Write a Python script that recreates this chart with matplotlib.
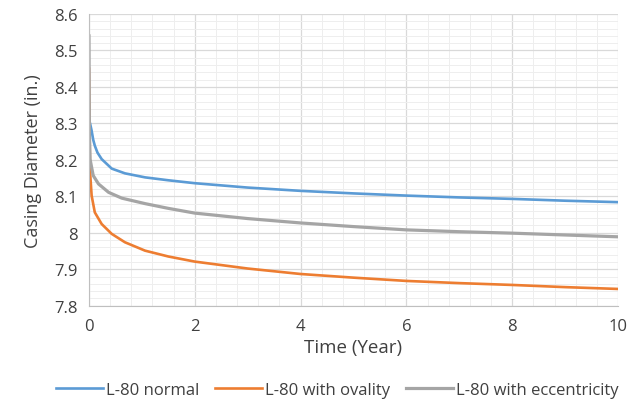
import matplotlib.pyplot as plt
from matplotlib.ticker import MultipleLocator, FormatStrFormatter

plt.rcParams["font.family"] = ["Open Sans", "DejaVu Sans"]

# time (years) and casing diameter (in.)
t_normal = [0.0, 0.02, 0.05, 0.08, 0.11, 0.16, 0.24, 0.43, 0.68, 1.06, 1.5, 2, 3, 4, 5, 6, 7, 8, 9, 10]
d_normal = [8.31, 8.30, 8.28, 8.255, 8.239, 8.22, 8.202, 8.176, 8.163, 8.152, 8.144, 8.136,
            8.124, 8.115, 8.108, 8.102, 8.097, 8.093, 8.088, 8.084]

t_oval = [0.0, 0.01, 0.02, 0.05, 0.11, 0.24, 0.43, 0.68, 1.06, 1.5, 2, 3, 4, 5, 6, 7, 8, 9, 10]
d_oval = [8.45, 8.30, 8.167, 8.102, 8.056, 8.024, 7.997, 7.974, 7.951, 7.935, 7.921,
          7.902, 7.887, 7.877, 7.868, 7.862, 7.857, 7.851, 7.846]

t_ecc = [0.0, 0.005, 0.01, 0.02, 0.08, 0.18, 0.37, 0.62, 1.06, 1.5, 2, 3, 4, 5, 6, 7, 8, 9, 10]
d_ecc = [8.54, 8.35, 8.26, 8.202, 8.157, 8.134, 8.111, 8.095, 8.080, 8.067, 8.054,
         8.039, 8.027, 8.017, 8.008, 8.003, 7.999, 7.994, 7.989]

TEXT = "#404040"

fig = plt.figure(figsize=(6.42, 4.02), dpi=100)
ax = fig.add_axes([0.1386, 0.237, 0.824, 0.7257])

ax.plot(t_normal, d_normal, color="#5B9BD5", lw=1.9, label="L-80 normal")
ax.plot(t_oval, d_oval, color="#ED7D31", lw=1.9, label="L-80 with ovality")
ax.plot(t_ecc, d_ecc, color="#A5A5A5", lw=2.3, label="L-80 with eccentricity")

ax.set_xlim(0, 10)
ax.set_ylim(7.8, 8.6)
ax.xaxis.set_major_locator(MultipleLocator(2))
ax.xaxis.set_minor_locator(MultipleLocator(0.4))
ax.yaxis.set_major_locator(MultipleLocator(0.1))
ax.yaxis.set_minor_locator(MultipleLocator(0.02))
ax.yaxis.set_major_formatter(FormatStrFormatter("%g"))

ax.grid(which="major", color="#D9D9D9", lw=0.9)
ax.grid(which="minor", color="#EEEEEE", lw=0.7)
ax.set_axisbelow(True)
for side in ["top", "right"]:
    ax.spines[side].set_visible(False)
for side in ["left", "bottom"]:
    ax.spines[side].set_color("#BFBFBF")
ax.tick_params(which="both", length=0, labelsize=12, colors=TEXT)
ax.tick_params(axis="y", pad=8)
ax.tick_params(axis="x", pad=9)

ax.set_xlabel("Time (Year)", fontsize=13.5, color=TEXT, labelpad=3)
ax.set_ylabel("Casing Diameter (in.)", fontsize=13, color=TEXT, labelpad=9)

ax.legend(loc="center", bbox_to_anchor=(0.47, -0.29), ncol=3, frameon=False,
          fontsize=12, labelcolor=TEXT, handlelength=2.8, handletextpad=0.2,
          columnspacing=0.95)

fig.savefig("out.png", dpi=100)
